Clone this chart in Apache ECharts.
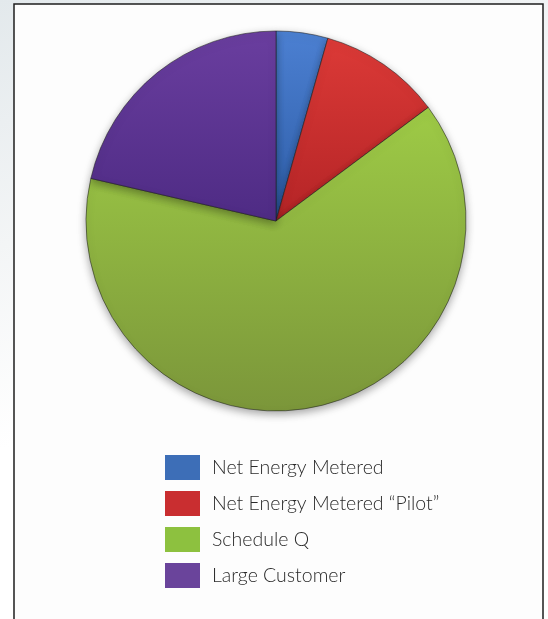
<!DOCTYPE html>
<html>
<head>
<meta charset="utf-8">
<script src="https://cdn.jsdelivr.net/npm/echarts@6/dist/echarts.min.js"></script>
<style>
  html, body { margin: 0; padding: 0; }
  body {
    width: 548px; height: 619px; overflow: hidden;
    background: linear-gradient(160deg, #e3e9ec 0%, #f3f5f6 30%, #ffffff 55%);
  }
  #chart { width: 548px; height: 619px; }
</style>
</head>
<body>
<div id="chart"></div>
<script>
// Share of interconnections by program
const categories = ['Net Energy Metered', 'Net Energy Metered \u201cPilot\u201d', 'Schedule Q', 'Large Customer'];
const shares = [4.4, 10.4, 63.8, 21.4];
const legendColors = ['#3d6eb7', '#c92e30', '#8dc13f', '#6a449b'];
// top / bottom shades used for the slice fill
const shadeTop = ['#4c80d2', '#dc3a37', '#9ecb46', '#6a3e9f'];
const shadeBottom = ['#2d5ca6', '#b42426', '#7b963a', '#4e2b84'];

function vGrad(top, bottom) {
  return {
    type: 'linear', x: 0, y: 0, x2: 0, y2: 1,
    colorStops: [{ offset: 0, color: top }, { offset: 1, color: bottom }]
  };
}

const chart = echarts.init(document.getElementById('chart'), null, { renderer: 'canvas' });

chart.setOption({
  animation: false,
  color: legendColors,
  graphic: [{
    type: 'rect',
    z: -10,
    shape: { x: 14, y: 4, width: 529, height: 640 },
    style: { fill: '#fdfdfd', stroke: '#1e1e1e', lineWidth: 1.5 }
  }],
  legend: {
    orient: 'vertical',
    left: 165,
    top: 455,
    padding: 0,
    itemWidth: 35,
    itemHeight: 25,
    itemGap: 11,
    icon: 'rect',
    itemStyle: { borderWidth: 0, shadowBlur: 0 },
    data: categories.map((name, i) => ({ name, itemStyle: { color: legendColors[i] } })),
    textStyle: {
      fontFamily: 'Lato',
      fontWeight: 300,
      fontSize: 19.5,
      lineHeight: 25,
      color: '#2a2a2a',
      padding: [0, 0, 0, 7]
    }
  },
  series: [{
    type: 'pie',
    center: [276, 221],
    radius: 190,
    startAngle: 90,
    clockwise: true,
    label: { show: false },
    labelLine: { show: false },
    emphasis: { disabled: true },
    itemStyle: {
      borderColor: 'rgba(30,30,30,0.55)',
      borderWidth: 1,
      shadowBlur: 8,
      shadowOffsetY: 3,
      shadowColor: 'rgba(0,0,0,0.35)'
    },
    data: categories.map((name, i) => ({
      name,
      value: shares[i],
      itemStyle: { color: vGrad(shadeTop[i], shadeBottom[i]) }
    }))
  }]
});
</script>
</body>
</html>
